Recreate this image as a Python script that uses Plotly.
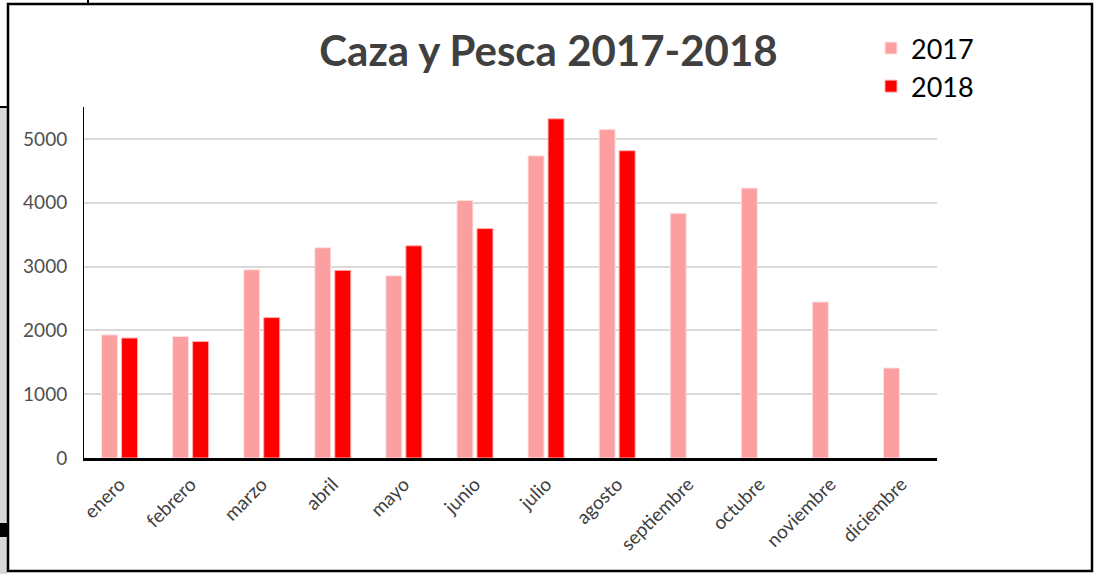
import plotly.graph_objects as go

months = ["enero", "febrero", "marzo", "abril", "mayo", "junio", "julio",
          "agosto", "septiembre", "octubre", "noviembre", "diciembre"]
values_2017 = [1930, 1905, 2950, 3295, 2855, 4035, 4735, 5150, 3835, 4230, 2445, 1410]
values_2018 = [1880, 1825, 2200, 2940, 3325, 3595, 5315, 4815, None, None, None, None]
y_ticks = [0, 1000, 2000, 3000, 4000, 5000]

W, H = 1097, 574
L, R, T, B = 84, 160, 107, 116

fig = go.Figure()
fig.add_trace(go.Bar(x=months, y=values_2017, name="2017",
                     marker=dict(color="#FC9FA1", line=dict(color="#FDE3E3", width=1))))
fig.add_trace(go.Bar(x=months, y=values_2018, name="2018",
                     marker=dict(color="#FF0000", line=dict(color="#FFB0B0", width=1))))

pw = W - L - R
ph = H - T - B
def px(x):
    return (x - L) / pw
def py(y):
    return (H - B - y) / ph

shapes = [
    dict(type="rect", xref="paper", yref="paper", x0=px(0), x1=px(7), y0=py(574), y1=py(107),
         fillcolor="#D9D9D9", line=dict(width=0), layer="below"),
    dict(type="rect", xref="paper", yref="paper", x0=px(0), x1=px(7), y0=py(537), y1=py(523),
         fillcolor="black", line=dict(width=0)),
    dict(type="rect", xref="paper", yref="paper", x0=px(8), x1=px(1092), y0=py(571), y1=py(4),
         fillcolor="rgba(0,0,0,0)", line=dict(color="black", width=2.5)),
    dict(type="line", xref="paper", yref="paper", x0=px(0), x1=px(8), y0=py(107), y1=py(107),
         line=dict(color="black", width=2)),
    dict(type="line", xref="paper", yref="paper", x0=px(88), x1=px(88), y0=py(0), y1=py(4),
         line=dict(color="black", width=2)),
]

fig.update_layout(
    width=W, height=H,
    margin=dict(l=L, r=R, t=T, b=B),
    paper_bgcolor="white", plot_bgcolor="white",
    barmode="group", bargap=0.437, bargroupgap=0.2,
    title=dict(text="<b>Caza y Pesca 2017-2018</b>", x=0.5, xanchor="center",
               y=1 - 51 / H, yanchor="middle",
               font=dict(family="Lato, Open Sans, sans-serif", size=42, color="#404040")),
    legend=dict(x=px(871), xanchor="left", y=py(24), yanchor="top",
                font=dict(family="Lato, Open Sans, sans-serif", size=27, color="black"),
                bgcolor="rgba(0,0,0,0)", tracegroupgap=0, itemwidth=30),
    font=dict(family="Lato, Open Sans, sans-serif"),
    shapes=shapes,
    showlegend=True,
)
fig.update_xaxes(showline=True, linecolor="black", linewidth=2.5, tickangle=-45,
                 tickfont=dict(size=19, color="#404040"), ticks="", showgrid=False,
                 ticklabelstandoff=5)
fig.update_yaxes(range=[0, 5500], tickvals=y_ticks, showline=True, linecolor="black",
                 linewidth=1, gridcolor="#D9D9D9", gridwidth=1.5, ticks="",
                 tickfont=dict(size=19, color="#505050"), ticklabelstandoff=12, zeroline=False)

fig.write_html("out.html", config={"displayModeBar": False},
               post_script="document.body.style.margin='0';")
